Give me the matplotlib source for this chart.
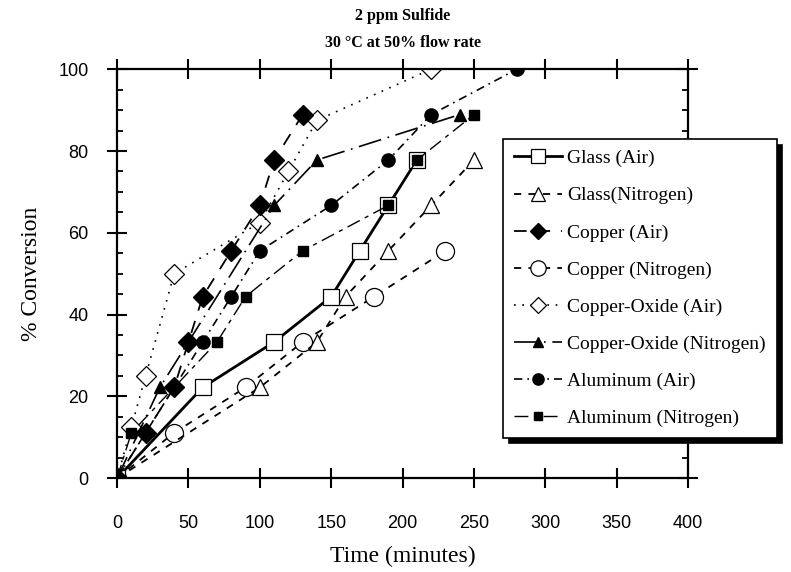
import numpy as np
import matplotlib.pyplot as plt
from matplotlib.ticker import MultipleLocator

# data (time in minutes, % conversion)
t_glass_air = [0, 60, 110, 150, 170, 190, 210]
c_glass_air = [0, 22.2, 33.3, 44.4, 55.6, 66.7, 77.8]

t_glass_n2 = [0, 100, 140, 160, 190, 220, 250]
c_glass_n2 = [0, 22.2, 33.3, 44.4, 55.6, 66.7, 77.8]

t_cu_air = [0, 20, 40, 50, 60, 80, 100, 110, 130]
c_cu_air = [0, 11.1, 22.2, 33.3, 44.4, 55.6, 66.7, 77.8, 88.9]

t_cu_n2 = [0, 40, 90, 130, 180, 230]
c_cu_n2 = [0, 11.1, 22.2, 33.3, 44.4, 55.6]

t_cuo_air = [0, 10, 20, 40, 100, 120, 140, 220]
c_cuo_air = [0, 12.5, 25, 50, 62.5, 75, 87.5, 100]

t_cuo_n2 = [0, 30, 110, 140, 240]
c_cuo_n2 = [0, 22.2, 66.7, 77.8, 88.9]

t_al_air = [0, 60, 80, 100, 150, 190, 220, 280]
c_al_air = [0, 33.3, 44.4, 55.6, 66.7, 77.8, 88.9, 100]

t_al_n2 = [0, 10, 70, 90, 130, 190, 210, 250]
c_al_n2 = [0, 11.1, 33.3, 44.4, 55.6, 66.7, 77.8, 88.9]

labels = ['Glass (Air)', 'Glass(Nitrogen)', 'Copper (Air)', 'Copper (Nitrogen)',
          'Copper-Oxide (Air)', 'Copper-Oxide (Nitrogen)', 'Aluminum (Air)',
          'Aluminum (Nitrogen)']

serif = ['Liberation Serif', 'DejaVu Serif']
sans = ['Liberation Sans', 'DejaVu Sans']

fig = plt.figure(figsize=(7.91, 5.72), dpi=100)
ax = fig.add_axes([0.148, 0.164, 0.722, 0.715])

ax.plot(t_cuo_air, c_cuo_air, ls=(0, (1, 4)), lw=1.2, color='k', marker='D', ms=10,
        mfc='white', mec='k', mew=0.9, label=labels[4], zorder=2)
ax.plot(t_cu_n2, c_cu_n2, ls=(0, (4, 4)), lw=1.3, color='k', marker='o', ms=13,
        mfc='white', mec='k', mew=0.9, label=labels[3], zorder=2)
ax.plot(t_glass_n2, c_glass_n2, ls=(0, (4, 4)), lw=1.3, color='k', marker='^', ms=12,
        mfc='white', mec='k', mew=0.9, label=labels[1], zorder=2)
ax.plot(t_glass_air, c_glass_air, ls='-', lw=2, color='k', marker='s', ms=11.5,
        mfc='white', mec='k', mew=0.9, label=labels[0], zorder=3)
ax.plot(t_cu_air, c_cu_air, ls=(0, (7, 6)), lw=1.3, color='k', marker='D', ms=10,
        mfc='k', mec='k', label=labels[2], zorder=4)
ax.plot(t_cuo_n2, c_cuo_n2, ls=(0, (14, 4, 1, 4)), lw=1.2, color='k', marker='^', ms=8,
        mfc='k', mec='k', label=labels[5], zorder=4)
ax.plot(t_al_air, c_al_air, ls=(0, (5, 3, 1, 3)), lw=1.2, color='k', marker='o', ms=9.5,
        mfc='k', mec='k', label=labels[6], zorder=4)
ax.plot(t_al_n2, c_al_n2, ls=(0, (10, 4, 3, 4)), lw=1.0, color='k', marker='s', ms=7.5,
        mfc='k', mec='k', label=labels[7], zorder=4)

ax.set_xlim(0, 400)
ax.set_ylim(0, 100)
ax.xaxis.set_major_locator(MultipleLocator(50))
ax.yaxis.set_major_locator(MultipleLocator(20))
ax.yaxis.set_minor_locator(MultipleLocator(5))

for s in ax.spines.values():
    s.set_linewidth(1.6)

ax.tick_params(axis='x', which='major', direction='inout', length=15, width=1.5,
               top=True, pad=19, labelsize=13)
ax.tick_params(axis='y', which='major', direction='inout', length=15, width=1.5,
               right=True, pad=13, labelsize=13)
ax.tick_params(axis='y', which='minor', direction='in', length=4, width=1.3, right=True)
for lab in ax.get_xticklabels() + ax.get_yticklabels():
    lab.set_family(sans)

ax.set_xlabel('Time (minutes)', family=serif, fontsize=17, labelpad=10)
ax.set_ylabel('% Conversion', family=serif, fontsize=17, labelpad=12)

fig.text(0.509, 0.972, '2 ppm Sulfide', ha='center', va='center', family=serif,
         fontweight='bold', fontsize=11.5)
fig.text(0.509, 0.925, '30 °C at 50% flow rate', ha='center', va='center', family=serif,
         fontweight='bold', fontsize=11.5)

order = [3, 2, 4, 1, 0, 5, 6, 7]
h, l = ax.get_legend_handles_labels()
h = [h[i] for i in order]
l = [l[i] for i in order]
leg = fig.legend(h, l, loc='upper left', bbox_to_anchor=(0.636, 0.757),
                 borderaxespad=0, prop={'family': serif, 'size': 14}, frameon=True,
                 fancybox=False, edgecolor='k', handlelength=2.5, handletextpad=0.25,
                 labelspacing=1.0, borderpad=0.55, markerscale=0.85,
                 shadow={'color': 'k', 'alpha': 1, 'ox': 4, 'oy': -4})
leg.get_frame().set_linewidth(1.2)

fig.savefig('out.png', dpi=100)
